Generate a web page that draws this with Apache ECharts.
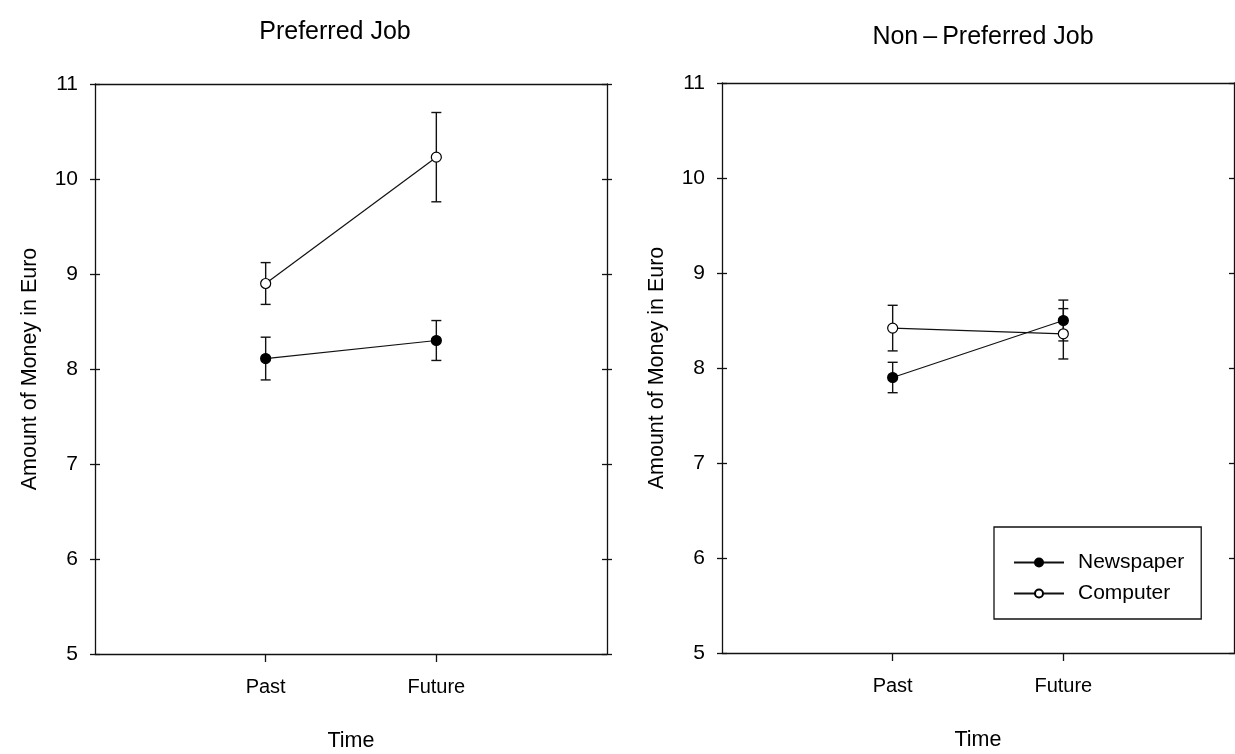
<!DOCTYPE html>
<html>
<head>
<meta charset="utf-8">
<script src="https://cdn.jsdelivr.net/npm/echarts@6/dist/echarts.min.js"></script>
<style>
  html, body { margin: 0; padding: 0; background: #fff; }
  #chart { width: 1235px; height: 754px; }
</style>
</head>
<body>
<div id="chart"></div>
<script>
// Mean amount of money (Euro) by time frame, with error bars (± half-width)
const timeLabels = ['Past', 'Future'];
const timePos = [1, 2];
const yTicks = [5, 6, 7, 8, 9, 10, 11];

const newsPreferred = [8.11, 8.30];
const newsPreferredErr = [0.225, 0.21];
const compPreferred = [8.90, 10.23];
const compPreferredErr = [0.22, 0.47];

const newsNonPreferred = [7.90, 8.50];
const newsNonPreferredErr = [0.16, 0.215];
const compNonPreferred = [8.42, 8.36];
const compNonPreferredErr = [0.24, 0.265];

const panelTitles = ['Preferred Job', 'Non\u2009\u2013\u2009Preferred Job'];
const seriesNames = ['Newspaper', 'Computer'];

const FONT = 'Liberation Sans, Arial, sans-serif';
const INK = '#111';

const chart = echarts.init(document.getElementById('chart'), null, { renderer: 'canvas' });

const grids = [
  { left: 95, top: 84, width: 512, height: 570, outerBoundsMode: 'none', containLabel: false },
  { left: 722, top: 83, width: 512, height: 570, outerBoundsMode: 'none', containLabel: false }
];

const xAxes = [];
const yAxes = [];
grids.forEach((g, i) => {
  // bottom axis carrying the two time points
  xAxes.push({
    type: 'value', gridIndex: i, min: 0, max: 3, interval: 1,
    name: 'Time', nameLocation: 'middle', nameGap: 76,
    nameTextStyle: { fontFamily: FONT, fontSize: 21.5, color: '#000' },
    axisLine: { show: true, lineStyle: { color: INK, width: 1.3 } },
    axisTick: { show: true, length: 8, customValues: timePos, lineStyle: { color: INK, width: 1.3 } },
    axisLabel: {
      customValues: timePos, margin: 23,
      fontFamily: FONT, fontSize: 20, color: '#000',
      formatter: v => timeLabels[timePos.indexOf(v)] || ''
    },
    splitLine: { show: false }
  });
  // top frame edge
  xAxes.push({
    type: 'value', gridIndex: i, min: 0, max: 3, position: 'top',
    axisLine: { show: true, lineStyle: { color: INK, width: 1.3 } },
    axisTick: { show: false }, axisLabel: { show: false }, splitLine: { show: false }
  });
  const yBase = {
    type: 'value', gridIndex: i, min: 5, max: 11, interval: 1,
    splitLine: { show: false }
  };
  // left axis with labels, ticks outward
  yAxes.push(Object.assign({}, yBase, {
    position: 'left',
    name: 'Amount of Money in Euro', nameLocation: 'middle', nameGap: 54,
    nameTextStyle: { fontFamily: FONT, fontSize: 21.5, color: '#000' },
    axisLine: { show: true, lineStyle: { color: INK, width: 1.3 } },
    axisTick: { show: true, length: 5, lineStyle: { color: INK, width: 1.3 } },
    axisLabel: { fontFamily: FONT, fontSize: 21, color: '#000', margin: 17,
      formatter: v => (yTicks.indexOf(v) >= 0 ? String(v) : '') }
  }));
  // left axis ticks inward
  yAxes.push(Object.assign({}, yBase, {
    position: 'left',
    axisLine: { show: false },
    axisTick: { show: true, inside: true, length: 5, lineStyle: { color: INK, width: 1.3 } },
    axisLabel: { show: false }
  }));
  // right frame edge, ticks both ways
  yAxes.push(Object.assign({}, yBase, {
    position: 'right',
    axisLine: { show: true, lineStyle: { color: INK, width: 1.3 } },
    axisTick: { show: true, length: 5, lineStyle: { color: INK, width: 1.3 } },
    axisLabel: { show: false }
  }));
  yAxes.push(Object.assign({}, yBase, {
    position: 'right',
    axisLine: { show: false },
    axisTick: { show: true, inside: true, length: 5, lineStyle: { color: INK, width: 1.3 } },
    axisLabel: { show: false }
  }));
});

function errorSeries(panel, means, errs) {
  return {
    type: 'custom',
    xAxisIndex: panel * 2, yAxisIndex: panel * 4,
    z: 1, silent: true,
    data: means.map((m, k) => [timePos[k], m - errs[k], m + errs[k]]),
    renderItem: (params, api) => {
      const x = api.value(0);
      const lo = api.coord([x, api.value(1)]);
      const hi = api.coord([x, api.value(2)]);
      const cap = 5;
      const style = { stroke: INK, lineWidth: 1.4 };
      return {
        type: 'group',
        children: [
          { type: 'line', shape: { x1: lo[0], y1: lo[1], x2: hi[0], y2: hi[1] }, style },
          { type: 'line', shape: { x1: lo[0] - cap, y1: lo[1], x2: lo[0] + cap, y2: lo[1] }, style },
          { type: 'line', shape: { x1: hi[0] - cap, y1: hi[1], x2: hi[0] + cap, y2: hi[1] }, style }
        ]
      };
    }
  };
}

function lineSeries(panel, name, means, filled) {
  return {
    type: 'line', name,
    xAxisIndex: panel * 2, yAxisIndex: panel * 4,
    z: 3,
    data: means.map((m, k) => [timePos[k], m]),
    symbol: 'circle', symbolSize: 10,
    itemStyle: { color: filled ? '#000' : '#fff', borderColor: '#000', borderWidth: 1.2 },
    lineStyle: { color: INK, width: 1.2 },
    animation: false
  };
}

const series = [
  errorSeries(0, newsPreferred, newsPreferredErr),
  errorSeries(0, compPreferred, compPreferredErr),
  errorSeries(1, newsNonPreferred, newsNonPreferredErr),
  errorSeries(1, compNonPreferred, compNonPreferredErr),
  lineSeries(0, seriesNames[0], newsPreferred, true),
  lineSeries(0, seriesNames[1], compPreferred, false),
  lineSeries(1, seriesNames[0], newsNonPreferred, true),
  lineSeries(1, seriesNames[1], compNonPreferred, false)
];

chart.setOption({
  animation: false,
  backgroundColor: '#fff',
  title: [
    { text: panelTitles[0], left: 330, top: 15, textAlign: 'center',
      textStyle: { fontFamily: FONT, fontSize: 25, fontWeight: 'normal', color: '#000' } },
    { text: panelTitles[1], left: 978, top: 20, textAlign: 'center',
      textStyle: { fontFamily: FONT, fontSize: 25, fontWeight: 'normal', color: '#000' } }
  ],
  legend: {
    data: seriesNames,
    orient: 'vertical',
    left: 994, top: 527,
    padding: [25, 17, 15, 19],
    itemGap: 10, itemWidth: 50, itemHeight: 10,
    borderColor: INK, borderWidth: 1.3,
    backgroundColor: '#fff',
    textStyle: { fontFamily: FONT, fontSize: 21, lineHeight: 20, color: '#000', padding: [0, 0, 0, 9] }
  },
  grid: grids,
  xAxis: xAxes,
  yAxis: yAxes,
  series
});
</script>
</body>
</html>
